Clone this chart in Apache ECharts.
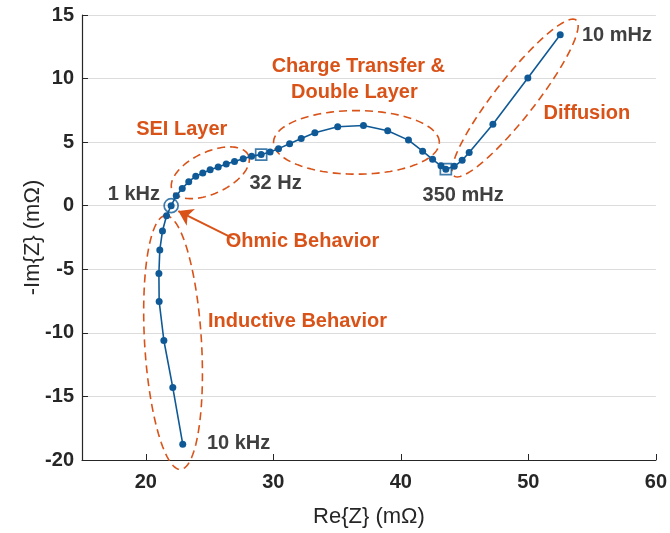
<!DOCTYPE html>
<html>
<head>
<meta charset="utf-8">
<script src="https://cdn.jsdelivr.net/npm/echarts@6/dist/echarts.min.js"></script>
<style>
  html, body { margin: 0; padding: 0; background: #fff; }
  #chart { width: 670px; height: 533px; }
</style>
</head>
<body>
<div id="chart"></div>
<script>
// Nyquist spectrum, from 10 kHz (first point) down to 10 mHz (last point)
const reZ = [22.90, 22.12, 21.42, 21.05, 21.03, 21.10, 21.31, 21.63, 21.99, 22.39,
             22.86, 23.37, 23.92, 24.47, 25.05, 25.68, 26.31, 26.96, 27.64, 28.30,
             29.05, 29.75, 30.41, 31.28, 32.19, 33.26, 35.05, 37.07, 38.97, 40.60,
             41.71, 42.49, 43.15, 43.53, 44.19, 44.81, 45.36, 47.22, 49.96, 52.50];
const negImZ = [-18.76, -14.30, -10.60, -7.53, -5.33, -3.48, -1.99, -0.79, 0.00, 0.78,
                1.36, 1.89, 2.32, 2.58, 2.82, 3.05, 3.29, 3.48, 3.69, 3.90,
                4.02, 4.22, 4.49, 4.88, 5.29, 5.74, 6.21, 6.31, 5.90, 5.16,
                4.29, 3.65, 3.14, 2.87, 3.10, 3.57, 4.18, 6.41, 10.05, 13.44];

// highlighted frequencies
const circleIdx = [8];        // 1 kHz
const squareIdx = [20, 33];   // 32 Hz, 350 mHz

const xTicks = [20, 30, 40, 50, 60];
const yTicks = [-20, -15, -10, -5, 0, 5, 10, 15];

const freqTexts = ['10 kHz', '1 kHz', '32 Hz', '350 mHz', '10 mHz'];
const regionTexts = ['SEI Layer', 'Charge Transfer &', 'Double Layer', 'Diffusion',
                     'Ohmic Behavior', 'Inductive Behavior'];

const BLUE = '#0F5A96';
const ORANGE = '#D95319';
const INK = '#262626';
const FONT = 'Liberation Sans, Arial, Helvetica, sans-serif';

// region outlines in data units: centre x, centre y, semi-axis a, semi-axis b, tilt (deg)
const regionEllipses = [
  [25.06, 2.59, 3.29, 1.64, 25],
  [36.52, 4.98, 6.50, 2.50, 0],
  [48.96, 8.47, 7.78, 1.57, 52],
  [22.14, -10.76, 10.0, 2.23, 93.4]
];

// text anchors in data units
const freqAnchors = [[27.28, -18.74], [19.07, 0.91], [30.18, 1.77], [44.89, 0.83], [56.95, 13.36]];
const regionAnchors = [[22.82, 6.0], [36.67, 10.93], [36.36, 8.9], [54.59, 7.25],
                       [32.29, -2.85], [31.9, -9.1]];

const chart = echarts.init(document.getElementById('chart'), null, { renderer: 'canvas' });

const points = reZ.map((x, i) => [x, negImZ[i]]);

// text placed at data coordinates through the cartesian system
function textSeries(texts, anchors, color) {
  return {
    type: 'custom',
    coordinateSystem: 'cartesian2d',
    data: anchors,
    encode: { x: 0, y: 1 },
    clip: false,
    silent: true,
    z: 6,
    renderItem: function (params, api) {
      const p = api.coord([api.value(0), api.value(1)]);
      return {
        type: 'text',
        x: p[0], y: p[1],
        style: {
          text: texts[params.dataIndex],
          fill: color,
          font: 'bold 20px ' + FONT,
          align: 'center',
          verticalAlign: 'middle'
        }
      };
    }
  };
}

chart.setOption({
  animation: false,
  backgroundColor: '#fff',
  grid: { left: 82, right: 13, top: 15, bottom: 71, containLabel: false },
  xAxis: {
    type: 'value', min: 15, max: 60, interval: 5,
    name: 'Re{Z} (mΩ)', nameLocation: 'middle', nameGap: 46, nameMoveOverlap: false,
    nameTextStyle: { color: INK, fontSize: 22, fontFamily: FONT },
    axisLine: { onZero: false, lineStyle: { color: INK, width: 1.2 } },
    axisTick: { inside: true, length: 6, customValues: xTicks, lineStyle: { color: INK } },
    axisLabel: { customValues: xTicks, color: INK, fontSize: 20, fontFamily: FONT, fontWeight: 'bold', margin: 12 },
    splitLine: { show: false }
  },
  yAxis: {
    type: 'value', min: -20, max: 15, interval: 5,
    name: '-Im{Z} (mΩ)', nameLocation: 'middle', nameGap: 38, nameRotate: 90, nameMoveOverlap: false,
    nameTextStyle: { color: INK, fontSize: 22, fontFamily: FONT },
    axisLine: { onZero: false, lineStyle: { color: INK, width: 1.2 } },
    axisTick: { inside: true, length: 6, lineStyle: { color: INK } },
    axisLabel: { color: INK, fontSize: 20, fontFamily: FONT, fontWeight: 'bold', margin: 8,
                 customValues: yTicks },
    splitLine: { show: true, lineStyle: { color: '#DCDCDC', width: 1 } }
  },
  series: [
    {
      // dashed outlines around each impedance region
      type: 'custom',
      coordinateSystem: 'cartesian2d',
      data: regionEllipses,
      encode: { x: 0, y: 1 },
      clip: false,
      silent: true,
      z: 1,
      renderItem: function (params, api) {
        const cx = api.value(0), cy = api.value(1), a = api.value(2), b = api.value(3);
        const t = api.value(4) * Math.PI / 180;
        const pts = [];
        for (let k = 0; k <= 120; k++) {
          const u = k / 120 * Math.PI * 2;
          const ex = a * Math.cos(u), ey = b * Math.sin(u);
          pts.push(api.coord([cx + ex * Math.cos(t) - ey * Math.sin(t),
                              cy + ex * Math.sin(t) + ey * Math.cos(t)]));
        }
        return {
          type: 'polyline',
          shape: { points: pts },
          style: { fill: 'none', stroke: ORANGE, lineWidth: 1.6, lineDash: [8, 5] }
        };
      }
    },
    {
      // spectrum
      type: 'line',
      data: points,
      symbol: 'circle',
      symbolSize: 7,
      showSymbol: true,
      lineStyle: { color: BLUE, width: 1.6 },
      itemStyle: { color: BLUE },
      z: 3
    },
    {
      type: 'scatter',
      data: circleIdx.map(i => points[i]),
      symbol: 'circle',
      symbolSize: 14,
      itemStyle: { color: 'rgba(0,0,0,0)', borderColor: BLUE, borderWidth: 1.7 },
      z: 4
    },
    {
      type: 'scatter',
      data: squareIdx.map(i => points[i]),
      symbol: 'rect',
      symbolSize: 11,
      itemStyle: { color: 'rgba(0,0,0,0)', borderColor: BLUE, borderWidth: 1.7 },
      z: 4
    },
    {
      // arrow pointing at the ohmic intercept
      type: 'lines',
      coordinateSystem: 'cartesian2d',
      data: [{ coords: [[26.97, -2.62], [22.55, -0.42]] }],
      symbol: ['none', 'arrow'],
      symbolSize: 14,
      lineStyle: { color: ORANGE, width: 2, opacity: 1 },
      z: 5
    },
    textSeries(freqTexts, freqAnchors, '#404040'),
    textSeries(regionTexts, regionAnchors, ORANGE)
  ]
});
</script>
</body>
</html>
